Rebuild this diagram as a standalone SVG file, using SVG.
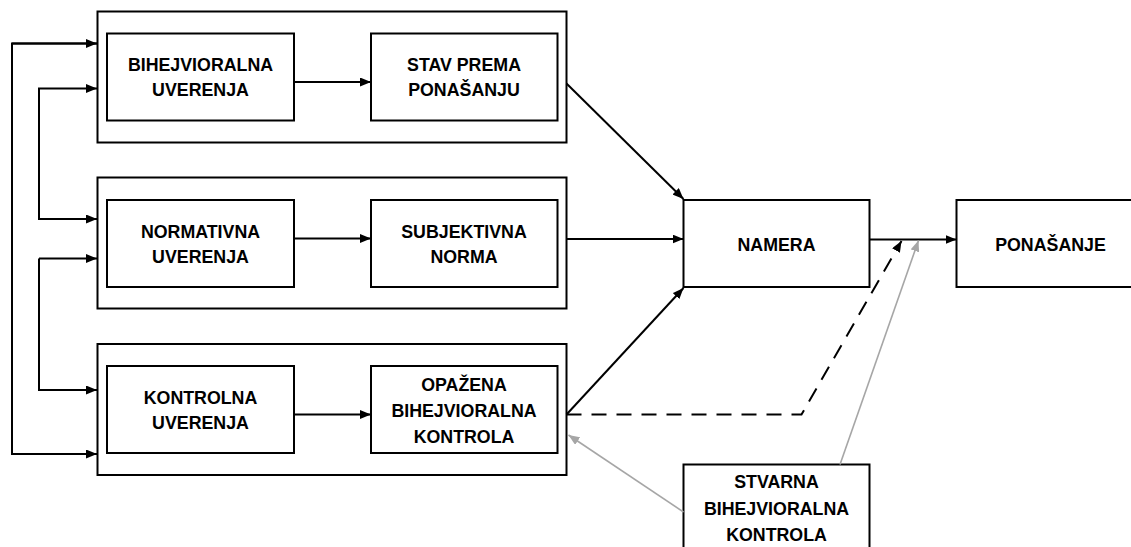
<svg xmlns="http://www.w3.org/2000/svg" width="1131" height="547" viewBox="0 0 1131 547">
<style>
.box{fill:#fff;stroke:#000;stroke-width:2}
.t{font-family:"Liberation Sans",Arial,sans-serif;font-weight:bold;font-size:17.8px;fill:#000;text-anchor:middle}
.c{fill:none;stroke:#000;stroke-width:2}
.g{fill:none;stroke:#a6a6a6;stroke-width:1.6}
</style>
<defs>
<marker id="ah" markerUnits="userSpaceOnUse" markerWidth="11" markerHeight="9" refX="11" refY="4.5" orient="auto"><path d="M0,0 L11,4.5 L0,9 z" fill="#000"/></marker>
<marker id="ahg" markerUnits="userSpaceOnUse" markerWidth="11" markerHeight="9" refX="11" refY="4.5" orient="auto"><path d="M0,0 L11,4.5 L0,9 z" fill="#a6a6a6"/></marker>
</defs>
<g id="group1"><rect class="box" x="97.5" y="11.5" width="469" height="131"/></g>
<g id="group2"><rect class="box" x="97.5" y="177.5" width="469" height="131"/></g>
<g id="group3"><rect class="box" x="97.5" y="344" width="469" height="131"/></g>
<g id="bihejvioralna-uverenja"><rect class="box" x="107" y="33.5" width="187" height="87"/><text class="t" x="200.5" y="71">BIHEJVIORALNA</text><text class="t" x="200.5" y="96">UVERENJA</text></g>
<g id="stav-prema-ponasanju"><rect class="box" x="371" y="33.5" width="186.5" height="87"/><text class="t" x="464" y="71">STAV PREMA</text><text class="t" x="464" y="96">PONAŠANJU</text></g>
<g id="normativna-uverenja"><rect class="box" x="107" y="200" width="187" height="87"/><text class="t" x="200.5" y="238">NORMATIVNA</text><text class="t" x="200.5" y="263">UVERENJA</text></g>
<g id="subjektivna-norma"><rect class="box" x="371" y="200" width="186.5" height="87"/><text class="t" x="464" y="238">SUBJEKTIVNA</text><text class="t" x="464" y="263">NORMA</text></g>
<g id="kontrolna-uverenja"><rect class="box" x="107" y="366" width="187" height="87"/><text class="t" x="200.5" y="404">KONTROLNA</text><text class="t" x="200.5" y="429">UVERENJA</text></g>
<g id="opazena-kontrola"><rect class="box" x="371" y="366" width="186.5" height="87"/><text class="t" x="464" y="391">OPAŽENA</text><text class="t" x="464" y="417">BIHEJVIORALNA</text><text class="t" x="464" y="443">KONTROLA</text></g>
<g id="namera"><rect class="box" x="683.5" y="200" width="186" height="87"/><text class="t" x="776.5" y="251">NAMERA</text></g>
<g id="ponasanje"><rect class="box" x="956.5" y="200" width="190" height="87"/><text class="t" x="1050.5" y="251">PONAŠANJE</text></g>
<g id="stvarna-kontrola"><rect class="box" x="683.5" y="464.5" width="186" height="100"/><text class="t" x="776.5" y="488">STVARNA</text><text class="t" x="776.5" y="514.5">BIHEJVIORALNA</text><text class="t" x="776.5" y="541">KONTROLA</text></g>
<g id="connectors">
<path class="c" d="M97,43.5 H12 V454 H97" marker-end="url(#ah)"/>
<path class="c" d="M12,43.5 H97" marker-end="url(#ah)"/>
<path class="c" d="M39,219 V88.5 H97" marker-end="url(#ah)"/>
<path class="c" d="M39,88.5 V219 H97" marker-end="url(#ah)"/>
<path class="c" d="M39,258.5 V390 H97" marker-end="url(#ah)"/>
<path class="c" d="M39,258.5 H97" marker-end="url(#ah)"/>
<path class="c" d="M294,82 H371" marker-end="url(#ah)"/>
<path class="c" d="M294,238.5 H371" marker-end="url(#ah)"/>
<path class="c" d="M294,414.5 H371" marker-end="url(#ah)"/>
<path class="c" d="M566.5,83.5 L683.5,199" marker-end="url(#ah)"/>
<path class="c" d="M566.5,239 H683.5" marker-end="url(#ah)"/>
<path class="c" d="M566.5,414.5 L683.5,288" marker-end="url(#ah)"/>
<path class="c" d="M869.5,239.5 H956.5" marker-end="url(#ah)"/>
<path class="c" d="M566.5,414.5 H801.5 L901.5,241" stroke-dasharray="15 10" marker-end="url(#ah)"/>
<path class="g" d="M840,464.5 L918.5,240.5" marker-end="url(#ahg)"/>
<path class="g" d="M683.5,512 L568.5,435" marker-end="url(#ahg)"/>
</g>
</svg>
